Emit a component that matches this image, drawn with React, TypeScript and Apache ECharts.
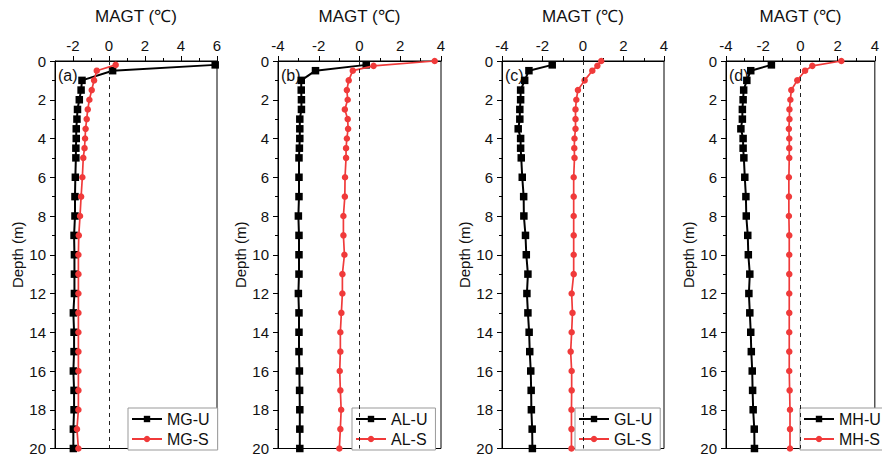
import React, { useEffect, useRef } from "react";
import * as echarts from "echarts";

const depthU = [0.2, 0.5, 1, 1.5, 2, 2.5, 3, 3.5, 4, 4.5, 5, 6, 7, 8, 9, 10, 11, 12, 13, 14, 15, 16, 17, 18, 19, 20];
const depthS = [0, 0.25, 0.5, 1, 1.5, 2, 2.5, 3, 3.5, 4, 4.5, 5, 6, 7, 8, 9, 10, 11, 12, 13, 14, 15, 16, 17, 18, 19, 20];

const mgU = [5.9, 0.2, -1.5, -1.55, -1.65, -1.75, -1.78, -1.82, -1.82, -1.84, -1.84, -1.87, -1.89, -1.89, -1.94, -1.92, -1.92, -1.92, -1.98, -1.94, -1.94, -1.98, -1.94, -1.94, -1.98, -1.98];
const mgS = [0.37, -0.68, -0.83, -0.96, -1.09, -1.18, -1.24, -1.3, -1.33, -1.36, -1.43, -1.48, -1.55, -1.61, -1.68, -1.7, -1.7, -1.7, -1.7, -1.7, -1.7, -1.7, -1.7, -1.7, -1.78, -1.7];
const alU = [0.33, -2.16, -2.86, -2.86, -2.85, -2.85, -2.93, -2.93, -2.93, -2.95, -2.97, -2.97, -2.97, -3.0, -2.97, -2.97, -2.97, -3.0, -2.97, -2.97, -2.97, -2.95, -2.94, -2.93, -2.93, -2.93];
const alS = [3.69, 0.69, -0.33, -0.53, -0.62, -0.58, -0.72, -0.58, -0.56, -0.62, -0.66, -0.66, -0.71, -0.72, -0.79, -0.79, -0.74, -0.84, -0.84, -0.89, -0.94, -0.94, -0.97, -0.94, -0.9, -0.94, -0.99];
const glU = [-1.52, -2.67, -2.88, -3.08, -3.08, -3.12, -3.12, -3.2, -3.08, -3.08, -3.05, -3.0, -2.93, -2.92, -2.84, -2.8, -2.72, -2.77, -2.72, -2.66, -2.63, -2.58, -2.56, -2.55, -2.51, -2.5];
const glS = [0.9, 0.71, 0.46, 0.08, -0.25, -0.33, -0.37, -0.37, -0.37, -0.42, -0.43, -0.42, -0.46, -0.46, -0.46, -0.46, -0.46, -0.46, -0.56, -0.52, -0.56, -0.61, -0.56, -0.56, -0.57, -0.57, -0.57];
const mhU = [-1.56, -2.67, -2.88, -3.05, -3.08, -3.12, -3.12, -3.2, -3.08, -3.08, -3.04, -2.99, -2.93, -2.91, -2.83, -2.8, -2.72, -2.77, -2.72, -2.67, -2.64, -2.59, -2.57, -2.54, -2.48, -2.47];
const mhS = [2.2, 0.64, 0.25, -0.17, -0.49, -0.54, -0.59, -0.59, -0.62, -0.6, -0.6, -0.6, -0.62, -0.62, -0.62, -0.6, -0.6, -0.6, -0.6, -0.6, -0.6, -0.6, -0.6, -0.58, -0.56, -0.56, -0.56];

const panelLabels = ["(a)", "(b)", "(c)", "(d)"];
const uNames = ["MG-U", "AL-U", "GL-U", "MH-U"];
const sNames = ["MG-S", "AL-S", "GL-S", "MH-S"];
const xTitle = "MAGT (℃)";
const yTitle = "Depth (m)";

const FONT = "'Liberation Sans', Arial, sans-serif";
const RED = "#f03a3a";

const panels = [
  { u: mgU, s: mgS, uD: depthU, sD: depthU, min: -3, max: 6, left: 55, width: 162 },
  { u: alU, s: alS, uD: depthU, sD: depthS, min: -4, max: 4, left: 278, width: 163 },
  { u: glU, s: glS, uD: depthU, sD: depthS, min: -4, max: 4, left: 502, width: 162 },
  { u: mhU, s: mhS, uD: depthU, sD: depthS, min: -4, max: 4, left: 726, width: 163 },
];

const TOP = 61;
const HEIGHT = 390;

export default function App() {
  const ref = useRef<HTMLDivElement>(null);
  useEffect(() => {
    if (!ref.current) return;
    const chart = echarts.init(ref.current, undefined, { renderer: "svg" });
    const grid: any[] = [];
    const xAxis: any[] = [];
    const yAxis: any[] = [];
    const series: any[] = [];
    const legend: any[] = [];
    const graphic: any[] = [];
    panels.forEach((p, i) => {
      grid.push({
        left: p.left, top: TOP, width: p.width, height: HEIGHT,
        show: true, borderColor: "#000", borderWidth: 1, backgroundColor: "transparent",
      });
      const isA = p.min === -3;
      xAxis.push({
        gridIndex: i, type: "value", position: "top", min: p.min, max: p.max,
        interval: isA ? 1 : 2,
        name: xTitle, nameLocation: "middle", nameGap: 36,
        nameTextStyle: { fontSize: 17, color: "#111", fontFamily: FONT },
        axisLine: { show: true, onZero: false, lineStyle: { color: "#000", width: 1 } },
        axisTick: isA
          ? { show: true, length: 5, customValues: [-2, 0, 2, 4, 6], lineStyle: { color: "#000" } }
          : { show: true, length: 5, lineStyle: { color: "#000" } },
        minorTick: { show: !isA, splitNumber: 2, length: 3, lineStyle: { color: "#000" } },
        axisLabel: isA
          ? { fontSize: 15, color: "#111", margin: 8, fontFamily: FONT, customValues: [-2, 0, 2, 4, 6] }
          : { fontSize: 15, color: "#111", margin: 8, fontFamily: FONT },
        splitLine: { show: false },
      });
      yAxis.push({
        gridIndex: i, type: "value", inverse: true, min: 0, max: 20, interval: 2,
        name: yTitle, nameLocation: "middle", nameGap: 30, nameRotate: 90,
        nameTextStyle: { fontSize: 15, color: "#111", fontFamily: FONT },
        axisLine: { show: true, onZero: false, lineStyle: { color: "#000", width: 1 } },
        axisTick: { show: true, length: 5, lineStyle: { color: "#000" } },
        minorTick: { show: true, splitNumber: 2, length: 3, lineStyle: { color: "#000" } },
        axisLabel: { fontSize: 15, color: "#111", margin: 9, fontFamily: FONT },
        splitLine: { show: false },
      });
      series.push({
        name: uNames[i], type: "line", xAxisIndex: i, yAxisIndex: i,
        data: p.u.map((v, k) => [v, p.uD[k]]),
        symbol: "rect", symbolSize: 7.5,
        lineStyle: { color: "#000", width: 2 },
        itemStyle: { color: "#000" },
        z: 3,
      });
      series.push({
        name: sNames[i], type: "line", xAxisIndex: i, yAxisIndex: i,
        data: p.s.map((v, k) => [v, p.sD[k]]),
        symbol: "circle", symbolSize: 6.5,
        lineStyle: { color: RED, width: 1.7 },
        itemStyle: { color: RED },
        z: 4,
        markLine: {
          silent: true, symbol: ["none", "none"], label: { show: false },
          lineStyle: { type: [4, 4], color: "#222", width: 1 },
          data: [{ xAxis: 0 }],
        },
      });
      legend.push({
        data: [uNames[i], sNames[i]],
        orient: "vertical",
        left: p.left + p.width - 89,
        top: 408,
        itemWidth: 30, itemHeight: 8, itemGap: 4,
        padding: [3, 8, 3, 3],
        borderColor: "#999", borderWidth: 1, backgroundColor: "#fff",
        textStyle: { fontSize: 16, color: "#111", fontFamily: FONT },
      });
      graphic.push({
        type: "text", left: p.left + 3, top: 67,
        style: { text: panelLabels[i], fontSize: 16, fill: "#111", fontFamily: FONT },
      });
    });
    // minor ticks for panel (a)
    xAxis.push({
      gridIndex: 0, type: "value", position: "top", min: -3, max: 6, interval: 1,
      axisLine: { show: false },
      axisTick: { show: true, length: 3, customValues: [-1, 1, 3, 5], lineStyle: { color: "#000" } },
      axisLabel: { show: false },
      splitLine: { show: false },
    });
    chart.setOption({
      animation: false,
      backgroundColor: "#fff",
      textStyle: { fontFamily: FONT },
      grid, xAxis, yAxis, series, legend, graphic,
    });
    return () => chart.dispose();
  }, []);
  return (
    <div
      ref={ref}
      style={{ position: "fixed", left: 0, top: 0, width: 882, height: 456, background: "#fff" }}
    />
  );
}
